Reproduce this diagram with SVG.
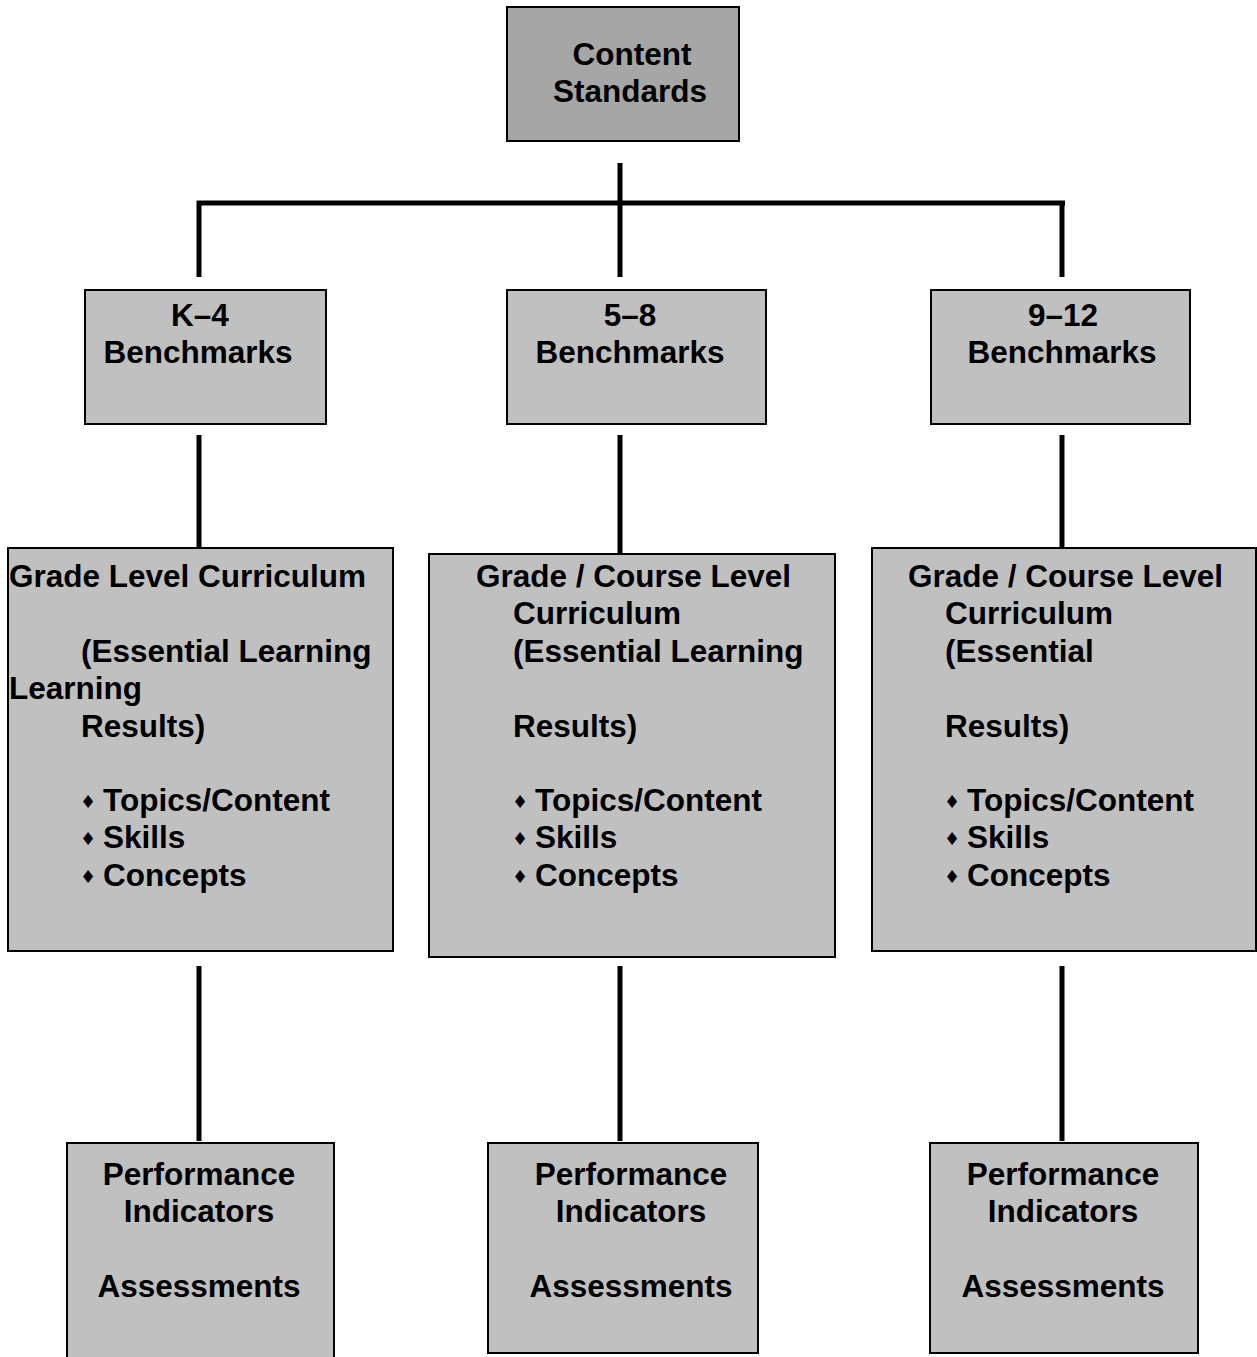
<svg xmlns="http://www.w3.org/2000/svg" width="1257" height="1357" viewBox="0 0 1257 1357">
<style>
.box{fill:#c0c0c0;stroke:#000;stroke-width:2}
.top{fill:#a6a6a6;stroke:#000;stroke-width:2}
.t{font-family:"Liberation Sans",Arial,sans-serif;font-weight:bold;font-size:31.5px;fill:#000}
.c{text-anchor:middle}
.b{font-family:"DejaVu Sans",sans-serif;font-size:18px;fill:#000;text-anchor:middle}
.ln{stroke:#000;stroke-width:5;fill:none}
</style>
<rect width="1257" height="1357" fill="#fff"/>
<g id="connectors">
<line class="ln" x1="620" y1="163" x2="620" y2="277"/>
<line class="ln" x1="197" y1="203" x2="1065" y2="203"/>
<line class="ln" x1="199" y1="201" x2="199" y2="277"/>
<line class="ln" x1="1062" y1="201" x2="1062" y2="277"/>
<line class="ln" x1="199" y1="435" x2="199" y2="548"/>
<line class="ln" x1="620" y1="435" x2="620" y2="553"/>
<line class="ln" x1="1062" y1="435" x2="1062" y2="548"/>
<line class="ln" x1="199" y1="966" x2="199" y2="1141"/>
<line class="ln" x1="620" y1="966" x2="620" y2="1141"/>
<line class="ln" x1="1062" y1="966" x2="1062" y2="1141"/>
</g>
<g id="content-standards">
<rect class="top" x="507" y="7" width="232" height="134"/>
<text class="t c" x="632" y="65">Content</text>
<text class="t c" x="630" y="102">Standards</text>
</g>
<g id="k4-benchmarks">
<rect class="box" x="85" y="290" width="241" height="134"/>
<text class="t c" x="200" y="326">K–4</text>
<text class="t c" x="198" y="363">Benchmarks</text>
</g>
<g id="58-benchmarks">
<rect class="box" x="507" y="290" width="259" height="134"/>
<text class="t c" x="630" y="326">5–8</text>
<text class="t c" x="630" y="363">Benchmarks</text>
</g>
<g id="912-benchmarks">
<rect class="box" x="931" y="290" width="259" height="134"/>
<text class="t c" x="1063" y="326">9–12</text>
<text class="t c" x="1062" y="363">Benchmarks</text>
</g>
<g id="k4-curriculum">
<rect class="box" x="8" y="548" width="385" height="403"/>
<text class="t" x="9" y="587">Grade Level Curriculum</text>
<text class="t" x="81" y="662">(Essential Learning</text>
<text class="t" x="9" y="699">Learning</text>
<text class="t" x="81" y="737">Results)</text>
<text class="b" x="88" y="808">♦</text>
<text class="t" x="103" y="811">Topics/Content</text>
<text class="b" x="88" y="845">♦</text>
<text class="t" x="103" y="848">Skills</text>
<text class="b" x="88" y="883">♦</text>
<text class="t" x="103" y="886">Concepts</text>
</g>
<g id="58-curriculum">
<rect class="box" x="429" y="554" width="406" height="403"/>
<text class="t" x="476" y="587">Grade / Course Level</text>
<text class="t" x="513" y="624">Curriculum</text>
<text class="t" x="513" y="662">(Essential Learning</text>
<text class="t" x="513" y="737">Results)</text>
<text class="b" x="520" y="808">♦</text>
<text class="t" x="535" y="811">Topics/Content</text>
<text class="b" x="520" y="845">♦</text>
<text class="t" x="535" y="848">Skills</text>
<text class="b" x="520" y="883">♦</text>
<text class="t" x="535" y="886">Concepts</text>
</g>
<g id="912-curriculum">
<rect class="box" x="872" y="548" width="384" height="403"/>
<text class="t" x="908" y="587">Grade / Course Level</text>
<text class="t" x="945" y="624">Curriculum</text>
<text class="t" x="945" y="662">(Essential</text>
<text class="t" x="945" y="737">Results)</text>
<text class="b" x="952" y="808">♦</text>
<text class="t" x="967" y="811">Topics/Content</text>
<text class="b" x="952" y="845">♦</text>
<text class="t" x="967" y="848">Skills</text>
<text class="b" x="952" y="883">♦</text>
<text class="t" x="967" y="886">Concepts</text>
</g>
<g id="k4-performance">
<rect class="box" x="67" y="1143" width="267" height="220"/>
<text class="t c" x="199" y="1185">Performance</text>
<text class="t c" x="199" y="1222">Indicators</text>
<text class="t c" x="199" y="1297">Assessments</text>
</g>
<g id="58-performance">
<rect class="box" x="488" y="1143" width="270" height="210"/>
<text class="t c" x="631" y="1185">Performance</text>
<text class="t c" x="631" y="1222">Indicators</text>
<text class="t c" x="631" y="1297">Assessments</text>
</g>
<g id="912-performance">
<rect class="box" x="930" y="1143" width="268" height="210"/>
<text class="t c" x="1063" y="1185">Performance</text>
<text class="t c" x="1063" y="1222">Indicators</text>
<text class="t c" x="1063" y="1297">Assessments</text>
</g>
</svg>
